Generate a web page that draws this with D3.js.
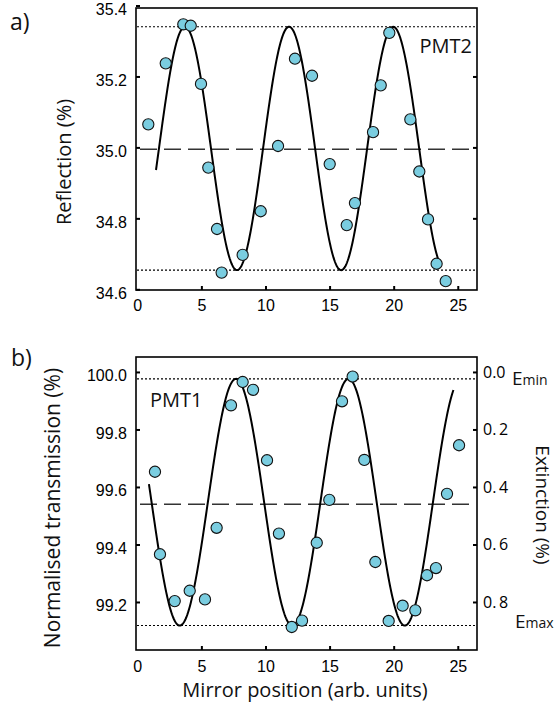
<!DOCTYPE html>
<html>
<head>
<meta charset="utf-8">
<script src="https://cdn.jsdelivr.net/npm/d3@7"></script>
<style>
	body { margin: 0; background: #fff; }
	svg { display: block; }
</style>
</head>
<body>
<svg id="chart" width="558" height="709"></svg>
<script>
// --- data ---
const posA = [0.86, 2.22, 3.59, 4.17, 4.97, 5.54, 6.22, 6.58, 8.22, 9.63, 10.98, 12.30,
	13.63, 15.01, 16.34, 16.98, 18.39, 18.99, 19.66, 21.30, 22.00, 22.68, 23.35, 24.06];
const reflA = [35.065, 35.237, 35.347, 35.343, 35.179, 34.943, 34.770, 34.647, 34.697, 34.820, 35.004, 35.250,
	35.202, 34.953, 34.781, 34.843, 35.043, 35.175, 35.323, 35.079, 34.932, 34.797, 34.672, 34.623];

const posB = [1.38, 1.77, 2.92, 4.09, 5.28, 6.19, 7.31, 8.22, 9.03, 10.12, 11.05, 12.05, 12.85,
	14.00, 14.98, 15.97, 16.80, 17.71, 18.57, 19.61, 20.70, 21.69, 22.60, 23.30, 24.16, 25.10];
const transB = [99.653, 99.366, 99.203, 99.239, 99.209, 99.458, 99.884, 99.965, 99.938, 99.693, 99.438, 99.113, 99.135,
	99.406, 99.555, 99.898, 99.984, 99.694, 99.339, 99.134, 99.187, 99.171, 99.293, 99.318, 99.576, 99.745];

// sine fits: [mean, amplitude, period, phase position, x start, x end]
const fitA = [34.997, 0.343, 8.12, 3.72, 1.46, 23.5];   // phase = a maximum
const fitB = [99.547, 0.429, 8.78, 3.31, 0.91, 24.7];   // phase = a minimum

// horizontal guide lines: [upper dotted, lower dotted, dashed]
const guideA = [35.340, 34.654, 34.995];
const guideB = [99.976, 99.118, 99.54];

const xTicks = [0, 5, 10, 15, 20, 25];
const yTicksA = [34.6, 34.8, 35.0, 35.2, 35.4];
const yTicksB = [99.2, 99.4, 99.6, 99.8, 100.0];
const extTicks = [0.0, 0.2, 0.4, 0.6, 0.8];

const titleFont = '"Open Sans", "Noto Sans", sans-serif';
const tickFont = '"Liberation Sans", Arial, sans-serif';
const dotColor = '#7acde0';

const svg = d3.select('#chart');

const x = d3.scaleLinear().domain([-0.1, 26.5]).range([136, 477]);
const yA = d3.scaleLinear().domain([34.598, 35.393]).range([290, 8]);
const yB = d3.scaleLinear().domain([99.033, 100.052]).range([650, 357]);
const yExt = d3.scaleLinear().domain([100 - 99.033, 100 - 100.052]).range([650, 357]);

function styleAxis(g, font, size) {
	g.select('.domain').remove();
	g.selectAll('.tick line').attr('stroke', '#000').attr('stroke-width', 2);
	g.selectAll('.tick text').attr('fill', '#000')
		.style('font-family', font).style('font-size', size + 'px');
}

function drawPanel(y, bottomY, topY, pos, vals, fit, guide, sign, yTicks, yFmt) {
	let g = svg.append('g');

	// guide lines
	g.selectAll('.dot-line').data(guide.slice(0, 2)).enter()
		.append('line')
		.attr('x1', 137).attr('x2', 476)
		.attr('y1', d => y(d)).attr('y2', d => y(d))
		.attr('stroke', '#000').attr('stroke-width', 1.1)
		.attr('stroke-dasharray', '2,2');
	g.append('line')
		.attr('x1', 140).attr('x2', 476)
		.attr('y1', y(guide[2])).attr('y2', y(guide[2]))
		.attr('stroke', '#333').attr('stroke-width', 1.4)
		.attr('stroke-dasharray', '17,7');

	// fitted curve
	let [mean, amp, period, phase, x0, x1] = fit;
	let xs = d3.range(x0, x1 + 0.001, 0.05);
	let line = d3.line()
		.x(d => x(d))
		.y(d => y(mean + sign * amp * Math.cos(2 * Math.PI * (d - phase) / period)));
	g.append('path')
		.datum(xs)
		.attr('d', line)
		.attr('fill', 'none')
		.attr('stroke', '#000')
		.attr('stroke-width', 2);

	// data points
	g.selectAll('.pt').data(pos).enter()
		.append('circle')
		.attr('cx', d => x(d))
		.attr('cy', (d, i) => y(vals[i]))
		.attr('r', 5.6)
		.attr('fill', dotColor)
		.attr('stroke', '#111')
		.attr('stroke-width', 1.1);

	// axes
	let ax = g.append('g')
		.attr('transform', `translate(0,${bottomY})`)
		.call(d3.axisBottom(x).tickValues(xTicks).tickSize(-4).tickPadding(bottomY > 400 ? 11 : 10));
	styleAxis(ax, tickFont, 16);
	ax.selectAll('.tick').filter(d => d == 0).select('line').remove();

	let ay = g.append('g')
		.attr('transform', 'translate(136,0)')
		.call(d3.axisLeft(y).tickValues(yTicks).tickFormat(yFmt).tickSize(-4).tickPadding(9));
	styleAxis(ay, tickFont, 16);
	ay.selectAll('.tick text').attr('dy', '0.55em');

	// frame
	g.append('rect')
		.attr('x', 136).attr('y', topY)
		.attr('width', 477 - 136).attr('height', bottomY - topY)
		.attr('fill', 'none').attr('stroke', '#000').attr('stroke-width', 1.6);
	return g;
}

// ---- panel a ----
let gA = drawPanel(yA, 290, 8, posA, reflA, fitA, guideA, 1, yTicksA, d3.format('.1f'));
let arA = gA.append('g')
	.attr('transform', 'translate(477,0)')
	.call(d3.axisRight(yA).tickValues([34.8, 35.0, 35.2]).tickSize(-4).tickFormat(''));
styleAxis(arA, tickFont, 15);

// ---- panel b ----
let gB = drawPanel(yB, 650, 357, posB, transB, fitB, guideB, -1, yTicksB, d3.format('.1f'));
let arB = gB.append('g')
	.attr('transform', 'translate(477,0)')
	.call(d3.axisRight(yExt).tickValues(extTicks).tickSize(-4).tickPadding(6)
		.tickFormat(d => d == 0 ? '0.0' : d3.format('.1f')(d).replace('.', '.\u2009')));
styleAxis(arB, titleFont, 16);

// ---- texts ----
function label(txt, xp, yp, size, opts = {}) {
	let t = svg.append('text')
		.attr('x', xp).attr('y', yp)
		.attr('font-family', titleFont)
		.attr('font-size', size)
		.attr('fill', '#111')
		.attr('text-anchor', opts.anchor || 'start')
		.text(txt);
	if (opts.rotate != null)
		t.attr('x', 0).attr('y', 0).attr('transform', `translate(${xp},${yp}) rotate(${opts.rotate})`);
	return t;
}

label('a)', 10, 30, 23);
label('b)', 11, 366, 23);
label('PMT2', 472, 53, 20, {anchor: 'end'});
label('PMT1', 150, 407, 20);

label('Reflection (%)', 71, 162, 20, {anchor: 'middle', rotate: -90});
label('Normalised transmission (%)', 60, 508, 21, {anchor: 'middle', rotate: -90});
label('Extinction  (%)', 536, 505, 19, {anchor: 'middle', rotate: 90});
label('Mirror position (arb. units)', 305, 697, 20, {anchor: 'middle'});

let eMin = label('E', 512, 385, 19);
eMin.append('tspan').attr('font-size', 14).text('min');
let eMax = label('E', 515, 628, 19);
eMax.append('tspan').attr('font-size', 14).text('max');
</script>
</body>
</html>
